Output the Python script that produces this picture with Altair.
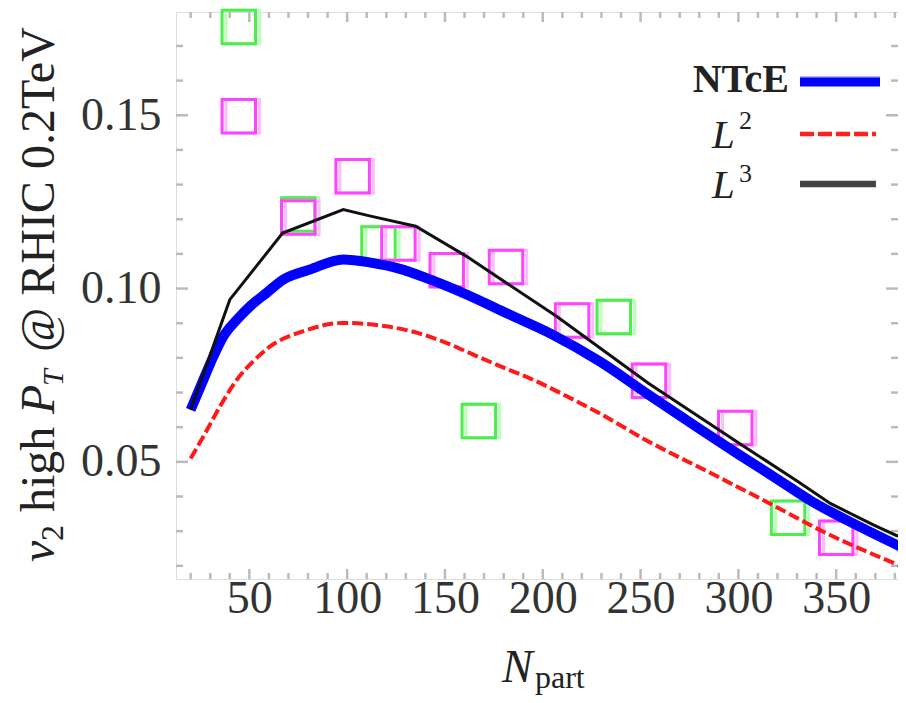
import altair as alt
import pandas as pd

# ---------------- data ----------------
ntce_x = [20, 26.5, 31.6, 36.7, 43.6, 50.4, 58.9, 67.4, 81, 98, 112, 127, 143, 161, 183, 204,
          229, 254, 280, 300, 320, 337, 362, 383]
ntce_y = [0.0650, 0.0737, 0.0804, 0.0862, 0.0910, 0.0949, 0.0988, 0.1026, 0.1055, 0.1084,
          0.1075, 0.1057, 0.1025, 0.0983, 0.0925, 0.0870, 0.0790, 0.0694, 0.0596, 0.0522,
          0.0450, 0.0388, 0.0313, 0.0255]

l2_x = [20, 26.5, 35, 43.6, 52, 60.6, 77.6, 98, 120, 136, 150, 165, 180, 195, 212, 229, 254,
        285, 316, 345, 383]
l2_y = [0.0510, 0.0573, 0.0660, 0.0737, 0.0790, 0.0833, 0.0877, 0.0901, 0.0891, 0.0872,
        0.0845, 0.0808, 0.0772, 0.0737, 0.0690, 0.0640, 0.0559, 0.0470, 0.0380, 0.0294,
        0.0200]

l3_x = [20, 40, 67, 98, 112, 135, 161, 207, 254, 300, 330, 347, 369, 381, 386]
l3_y = [0.0650, 0.0968, 0.1160, 0.1228, 0.1209, 0.1180, 0.1093, 0.0920, 0.0727, 0.0555,
        0.0445, 0.0380, 0.0318, 0.0287, 0.0285]

green_x = [44.6, 75, 116, 167.3, 236.3, 325.4]
green_y = [0.1755, 0.1214, 0.1130, 0.0618, 0.0918, 0.0339]

magenta_x = [44.6, 75, 102.8, 126.2, 150.9, 181.2, 215, 254.3, 298.4, 350]
magenta_y = [0.1497, 0.1205, 0.1324, 0.1130, 0.1053, 0.1062, 0.0908, 0.0734, 0.0598, 0.0281]

x_major = [50, 100, 150, 200, 250, 300, 350]
x_minor = [v for v in range(20, 390, 10) if v % 50 != 0]
y_major = [0.05, 0.10, 0.15]
y_minor = [round(0.01 * i, 2) for i in range(2, 18) if i % 5 != 0]

X_DOMAIN = [12.5, 381.6]
Y_DOMAIN = [0.0162, 0.1798]

W, H = 722, 567
FONT = "Liberation Serif"
FRAME = "#bbbbbb"

xs = alt.Scale(domain=X_DOMAIN, nice=False, zero=False)
ys = alt.Scale(domain=Y_DOMAIN, nice=False, zero=False)

df_ntce = pd.DataFrame({"x": ntce_x, "y": ntce_y})
df_l2 = pd.DataFrame({"x": l2_x, "y": l2_y})
df_l3 = pd.DataFrame({"x": l3_x, "y": l3_y})
df_g = pd.DataFrame({"x": green_x, "y": green_y})
df_m = pd.DataFrame({"x": magenta_x, "y": magenta_y})
dummy = pd.DataFrame({"a": [0]})

X = alt.X("x:Q", scale=xs,
          axis=alt.Axis(values=x_major, format="d", title=None, ticks=False, tickSize=0,
                        domain=False, grid=False, labelFont=FONT, labelFontSize=46,
                        labelColor="#333333", labelPadding=-3))
Y = alt.Y("y:Q", scale=ys,
          axis=alt.Axis(values=y_major, format=".2f", title=None, ticks=False, tickSize=0,
                        domain=False, grid=False, labelFont=FONT, labelFontSize=46,
                        labelColor="#333333", labelPadding=15))

base_x = alt.X("x:Q", scale=xs)
base_y = alt.Y("y:Q", scale=ys)

# frame ticks (inside)
def xticks(vals, length):
    d = pd.DataFrame({"x": vals})
    bot = alt.Chart(d).mark_rule(color=FRAME, strokeWidth=2.5).encode(
        x=base_x, y=alt.value(H), y2=alt.value(H - length))
    top = alt.Chart(d).mark_rule(color=FRAME, strokeWidth=2.5).encode(
        x=base_x, y=alt.value(0), y2=alt.value(length))
    return [bot, top]

def yticks(vals, length):
    d = pd.DataFrame({"y": vals})
    left = alt.Chart(d).mark_rule(color=FRAME, strokeWidth=2.5).encode(
        y=base_y, x=alt.value(0), x2=alt.value(length))
    right = alt.Chart(d).mark_rule(color=FRAME, strokeWidth=2.5).encode(
        y=base_y, x=alt.value(W), x2=alt.value(W - length))
    return [left, right]

ticks = xticks(x_major, 10) + xticks(x_minor, 6) + yticks(y_major, 12) + yticks(y_minor, 7)

# squares
def squares(df, main, light):
    sh = alt.Chart(df).mark_point(shape="square", filled=False, size=1120, strokeWidth=3,
                                  color=light, xOffset=4, opacity=1).encode(x=base_x, y=base_y)
    mn = alt.Chart(df).mark_point(shape="square", filled=False, size=1120, strokeWidth=3,
                                  color=main, opacity=1).encode(x=base_x, y=base_y)
    return [sh, mn]

sq = squares(df_g, "#4cee4c", "#bbffbb") + squares(df_m, "#ff44ff", "#ffbbff")

axes_layer = alt.Chart(df_ntce).mark_point(opacity=0).encode(x=X, y=Y)

line_ntce = alt.Chart(df_ntce).mark_line(color="#0000ff", strokeWidth=10, interpolate="monotone",
                                         clip=True).encode(x=base_x, y=base_y)
line_l2 = alt.Chart(df_l2).mark_line(color="#ff1a1a", strokeWidth=4, strokeDash=[11, 4],
                                     interpolate="monotone", clip=True).encode(x=base_x, y=base_y)
line_l3 = alt.Chart(df_l3).mark_line(color="#111111", strokeWidth=3, clip=True).encode(
    x=base_x, y=base_y)

# legend
def rule(x1, x2, y, **kw):
    return alt.Chart(dummy).mark_rule(**kw).encode(
        x=alt.value(x1), x2=alt.value(x2), y=alt.value(y))

def txt(s, x, y, size, align="left", style="normal", weight="normal", angle=0, color="#222222"):
    return alt.Chart(dummy).mark_text(text=s, font=FONT, fontSize=size, align=align,
                                      baseline="alphabetic", fontStyle=style,
                                      fontWeight=weight, angle=angle, color=color).encode(
        x=alt.value(x), y=alt.value(y))

legend = [
    rule(624, 704, 66, color="#b8b8ff", strokeWidth=4),
    rule(624, 704, 70, color="#0000ff", strokeWidth=9),
    rule(624, 700, 122, color="#ff2020", strokeWidth=4.5, strokeDash=[14, 4]),
    rule(624, 700, 172, color="#444444", strokeWidth=6.5),
    txt("NTcE", 613, 80, 40, align="right", weight="bold"),
    txt("L", 536, 136, 41, style="italic"),
    txt("2", 563, 117, 26),
    txt("L", 536, 186, 41, style="italic"),
    txt("3", 563, 170, 26),
]

# axis titles
titles = [
    txt("N", 326, 670, 46, style="italic"),
    txt("part", 359, 676, 32),
    txt("v", -122, 550, 48, style="italic", angle=270),
    txt("2", -113, 529, 32, angle=270),
    txt("high", -122, 500, 48, angle=270),
    txt("P", -122, 402, 48, style="italic", angle=270),
    txt("T", -113, 374, 30, style="italic", angle=270),
    txt("@ RHIC 0.2TeV", -122, 340, 48, angle=270),
]

chart = alt.layer(
    axes_layer, *ticks, *sq, line_l2, line_ntce, line_l3, *legend, *titles
).properties(
    width=W, height=H,
    padding={"left": 168, "top": 4, "right": 0, "bottom": 116},
    autosize=alt.AutoSizeParams(type="none"),
).configure_view(
    stroke=FRAME, strokeWidth=3
).configure(background="white")

chart.save("out.html", embed_options={"renderer": "svg", "actions": False})
